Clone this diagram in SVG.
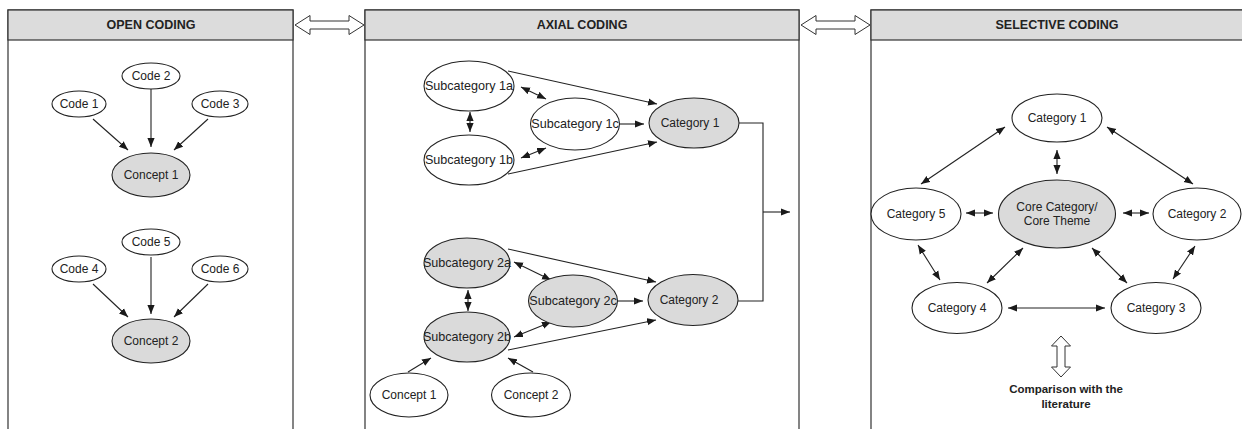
<svg xmlns="http://www.w3.org/2000/svg" width="1242" height="429" viewBox="0 0 1242 429">
<defs>
<marker id="ah" viewBox="0 0 10 8" markerWidth="9" markerHeight="8" refX="10" refY="4" orient="auto-start-reverse" markerUnits="userSpaceOnUse">
<path d="M0,0 L10,4 L0,8 z" fill="#1a1a1a"/>
</marker>
<style>
.panel{fill:#fff;stroke:#333;stroke-width:1.2}
.hdr{fill:#dcdcdc;stroke:#333;stroke-width:1.2}
.ht{font-family:"Liberation Sans",Arial,sans-serif;font-size:12.5px;font-weight:bold;fill:#222;text-anchor:middle}
.w{fill:#fff;stroke:#222;stroke-width:1.1}
.g{fill:#dadada;stroke:#222;stroke-width:1.1}
.t{font-family:"Liberation Sans",Arial,sans-serif;font-size:12px;fill:#222;text-anchor:middle}
.s{font-size:12.6px}
.c{stroke:#222;stroke-width:1.1;fill:none}
.a{marker-end:url(#ah)}
.d{marker-start:url(#ah);marker-end:url(#ah)}
.hollow{fill:#fff;stroke:#333;stroke-width:1}
.bt{font-family:"Liberation Sans",Arial,sans-serif;font-size:11.5px;font-weight:bold;fill:#222;text-anchor:middle}
</style>
</defs>

<g id="panel-open">
<rect class="panel" x="8" y="10" width="285" height="430"/>
<rect class="hdr" x="8" y="10" width="285" height="30"/>
<text class="ht" x="151" y="29">OPEN CODING</text>
</g>
<g id="panel-axial">
<rect class="panel" x="365" y="10" width="434" height="430"/>
<rect class="hdr" x="365" y="10" width="434" height="30"/>
<text class="ht" x="582" y="29">AXIAL CODING</text>
</g>
<g id="panel-selective">
<rect class="panel" x="871" y="10" width="380" height="430"/>
<rect class="hdr" x="871" y="10" width="380" height="30"/>
<text class="ht" x="1057" y="29">SELECTIVE CODING</text>
</g>

<g id="hollow-arrows">
<polygon class="hollow" points="295,25 310,15.5 310,21 349,21 349,15.5 364,25 349,34.5 349,29 310,29 310,34.5"/>
<polygon class="hollow" points="801,25 816,15.5 816,21 855,21 855,15.5 870,25 855,34.5 855,29 816,29 816,34.5"/>
<polygon class="hollow" points="1061,336 1070.5,346 1065,346 1065,367 1070.5,367 1061,377 1051.5,367 1057,367 1057,346 1051.5,346"/>
</g>

<g id="connectors">
<line class="c a" x1="93" y1="119" x2="128" y2="150"/>
<line class="c a" x1="151" y1="89" x2="151" y2="147"/>
<line class="c a" x1="208" y1="119" x2="174" y2="150"/>
<line class="c a" x1="93" y1="284" x2="128" y2="317"/>
<line class="c a" x1="151" y1="257" x2="151" y2="314"/>
<line class="c a" x1="208" y1="284" x2="174" y2="317"/>
<line class="c a" x1="508" y1="71" x2="657" y2="104"/>
<line class="c a" x1="508" y1="174" x2="657" y2="142"/>
<line class="c a" x1="620" y1="124" x2="644" y2="124"/>
<line class="c d" x1="521" y1="87" x2="546" y2="99"/>
<line class="c d" x1="521" y1="158" x2="546" y2="148"/>
<line class="c d" x1="470" y1="112" x2="470" y2="132"/>
<line class="c a" x1="508" y1="249" x2="656" y2="282"/>
<line class="c a" x1="508" y1="350" x2="656" y2="320"/>
<line class="c a" x1="618" y1="301" x2="643" y2="301"/>
<line class="c d" x1="514" y1="262" x2="551" y2="280"/>
<line class="c d" x1="514" y1="337" x2="551" y2="322"/>
<line class="c d" x1="468" y1="290" x2="468" y2="311"/>
<line class="c a" x1="408" y1="372" x2="431" y2="358"/>
<line class="c a" x1="533" y1="372" x2="508" y2="358"/>
<path class="c" d="M739,123 H763 V301 H738"/>
<line class="c a" x1="763" y1="212" x2="790" y2="212"/>
<line class="c d" x1="1005" y1="127" x2="921" y2="184"/>
<line class="c d" x1="1107" y1="127" x2="1193" y2="184"/>
<line class="c d" x1="1057" y1="150" x2="1057" y2="174"/>
<line class="c d" x1="966" y1="213" x2="993" y2="213"/>
<line class="c d" x1="1123" y1="213" x2="1149" y2="213"/>
<line class="c d" x1="918" y1="245" x2="940" y2="280"/>
<line class="c d" x1="1023" y1="248" x2="987" y2="283"/>
<line class="c d" x1="1092" y1="248" x2="1127" y2="283"/>
<line class="c d" x1="1195" y1="246" x2="1173" y2="279"/>
<line class="c d" x1="1008" y1="308" x2="1105" y2="308"/>
</g>

<g id="open-code1"><ellipse class="w" cx="79" cy="104" rx="27" ry="13"/><text class="t" x="79" y="108">Code 1</text></g>
<g id="open-code2"><ellipse class="w" cx="151" cy="76" rx="29" ry="13"/><text class="t" x="151" y="80">Code 2</text></g>
<g id="open-code3"><ellipse class="w" cx="220" cy="104" rx="28" ry="13"/><text class="t" x="220" y="108">Code 3</text></g>
<g id="open-concept1"><ellipse class="g" cx="151" cy="175" rx="39" ry="22"/><text class="t" x="151" y="179">Concept 1</text></g>
<g id="open-code4"><ellipse class="w" cx="79" cy="269" rx="27" ry="13"/><text class="t" x="79" y="273">Code 4</text></g>
<g id="open-code5"><ellipse class="w" cx="151" cy="242" rx="29" ry="13"/><text class="t" x="151" y="246">Code 5</text></g>
<g id="open-code6"><ellipse class="w" cx="220" cy="269" rx="28" ry="13"/><text class="t" x="220" y="273">Code 6</text></g>
<g id="open-concept2"><ellipse class="g" cx="151" cy="341" rx="39" ry="22"/><text class="t" x="151" y="345">Concept 2</text></g>

<g id="ax-sub1a"><ellipse class="w" cx="469" cy="86" rx="45" ry="25"/><text class="t s" x="469" y="90">Subcategory 1a</text></g>
<g id="ax-sub1b"><ellipse class="w" cx="469" cy="160" rx="45" ry="25"/><text class="t s" x="469" y="164">Subcategory 1b</text></g>
<g id="ax-sub1c"><ellipse class="w" cx="575" cy="124" rx="44.5" ry="26"/><text class="t s" x="575" y="128">Subcategory 1c</text></g>
<g id="ax-cat1"><ellipse class="g" cx="694" cy="123" rx="45" ry="25"/><text class="t" x="690" y="127">Category 1</text></g>
<g id="ax-sub2a"><ellipse class="g" cx="467" cy="263" rx="43" ry="25"/><text class="t s" x="467" y="267">Subcategory 2a</text></g>
<g id="ax-sub2b"><ellipse class="g" cx="467" cy="337" rx="43" ry="25"/><text class="t s" x="467" y="341">Subcategory 2b</text></g>
<g id="ax-sub2c"><ellipse class="g" cx="573" cy="301" rx="44.5" ry="26"/><text class="t s" x="573" y="305">Subcategory 2c</text></g>
<g id="ax-cat2"><ellipse class="g" cx="693" cy="300" rx="45" ry="25.5"/><text class="t" x="689" y="304">Category 2</text></g>
<g id="ax-concept1"><ellipse class="w" cx="409" cy="395" rx="39" ry="22"/><text class="t" x="409" y="399">Concept 1</text></g>
<g id="ax-concept2"><ellipse class="w" cx="531" cy="395" rx="39.5" ry="22"/><text class="t" x="531" y="399">Concept 2</text></g>

<g id="sel-cat1"><ellipse class="w" cx="1057" cy="118" rx="45" ry="24"/><text class="t" x="1057" y="122">Category 1</text></g>
<g id="sel-core"><ellipse class="g" cx="1057" cy="214" rx="58.5" ry="34"/><text class="t" x="1057" y="211">Core Category/</text><text class="t" x="1057" y="225">Core Theme</text></g>
<g id="sel-cat5"><ellipse class="w" cx="916" cy="214" rx="45" ry="26"/><text class="t" x="916" y="218">Category 5</text></g>
<g id="sel-cat2"><ellipse class="w" cx="1197" cy="214" rx="44" ry="26"/><text class="t" x="1197" y="218">Category 2</text></g>
<g id="sel-cat4"><ellipse class="w" cx="957" cy="308" rx="45" ry="25.5"/><text class="t" x="957" y="312">Category 4</text></g>
<g id="sel-cat3"><ellipse class="w" cx="1156" cy="308" rx="45" ry="25.5"/><text class="t" x="1156" y="312">Category 3</text></g>
<g id="sel-literature"><text class="bt" x="1066" y="393">Comparison with the</text><text class="bt" x="1066" y="408">literature</text></g>
</svg>
